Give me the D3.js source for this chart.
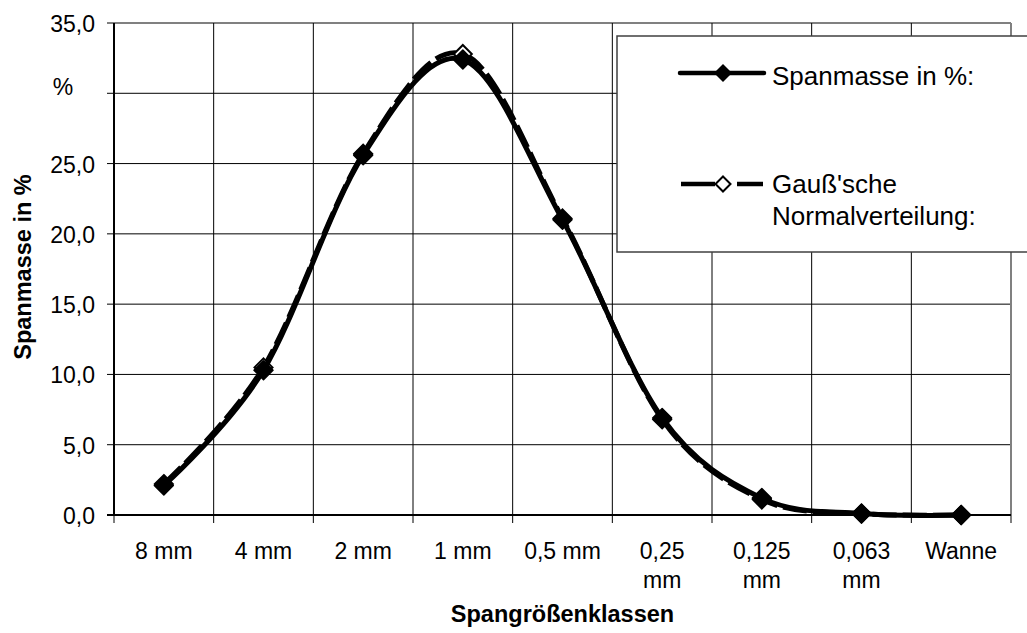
<!DOCTYPE html>
<meta charset="utf-8">
<script src="https://d3js.org/d3.v7.min.js"></script>
<style>
  body { margin: 0; background: #fff; }
  text { font-family: "Liberation Sans", Arial, sans-serif; fill: #000; }
</style>
<div id="chart"></div>
<script>
// data
const categories = ["8 mm", "4 mm", "2 mm", "1 mm", "0,5 mm", "0,25 mm", "0,125 mm", "0,063 mm", "Wanne"];
const spanmasse = [2.1, 10.3, 25.6, 32.4, 21.0, 6.9, 1.2, 0.1, 0.0];
const gauss = [2.2, 10.5, 25.7, 32.8, 21.1, 6.8, 1.1, 0.1, 0.0];
const yTicks = [0, 5, 10, 15, 20, 25, 30, 35];
const seriesNames = ["Spanmasse in %:", "Gauß'sche Normalverteilung:"];

const W = 1027, H = 633;
const margin = {top: 23, right: 16, bottom: 118, left: 114};
const width = W - margin.left - margin.right,
      height = H - margin.top - margin.bottom;

const svg = d3.select("#chart").append("svg")
    .attr("width", W).attr("height", H);
const g = svg.append("g")
    .attr("transform", `translate(${margin.left},${margin.top})`);

const x = d3.scaleBand().domain(categories).range([0, width]);
const y = d3.scaleLinear().domain([0, 35]).range([height, 0]);
const xc = d => x(d) + x.bandwidth() / 2;

// horizontal grid + y ticks
g.selectAll(".hgrid").data(yTicks).join("line")
    .attr("x1", d => d === 35 ? 0 : -7).attr("x2", width)
    .attr("y1", d => y(d)).attr("y2", d => y(d))
    .attr("stroke", d => d === 35 ? "#808080" : "#000")
    .attr("stroke-width", d => d === 35 ? 2 : 1);
g.append("line").attr("x1", -7).attr("x2", 0).attr("y1", 0).attr("y2", 0)
    .attr("stroke", "#000");
// vertical grid + x ticks
const bounds = categories.map(c => x(c)).concat([width]);
g.selectAll(".vgrid").data(bounds).join("line")
    .attr("x1", d => d).attr("x2", d => d)
    .attr("y1", 0)
    .attr("y2", height + 8)
    .attr("stroke", (d, i) => i === bounds.length - 1 ? "#808080" : "#000")
    .attr("stroke-width", (d, i) => i === bounds.length - 1 ? 2 : 1);
// axes lines
g.append("line").attr("x1", 0).attr("x2", 0).attr("y1", 0).attr("y2", height)
    .attr("stroke", "#000").attr("stroke-width", 2);
g.append("line").attr("x1", -7).attr("x2", width).attr("y1", height).attr("y2", height)
    .attr("stroke", "#000").attr("stroke-width", 2);

// y tick labels
g.selectAll(".ylab").data(yTicks).join("text")
    .attr("x", d => d === 30 ? -51 : -19)
    .attr("y", d => d === 30 ? y(d) + 2 : y(d) + 9)
    .attr("text-anchor", d => d === 30 ? "middle" : "end")
    .attr("font-size", 23)
    .text(d => d === 30 ? "%" : d3.format(".1f")(d).replace(".", ","));

// x tick labels (wrap "0,25 mm" etc.)
const xl = g.selectAll(".xlab").data(categories).join("text")
    .attr("text-anchor", "middle")
    .attr("font-size", 23)
    .attr("x", d => xc(d))
    .attr("y", height + 44);
xl.each(function(d) {
  const parts = d.length > 6 ? d.split(" ") : [d];
  d3.select(this).selectAll("tspan").data(parts).join("tspan")
      .attr("x", xc(d)).attr("dy", (p, i) => i === 0 ? 0 : 29).text(p => p);
});

// axis titles
svg.append("text").attr("x", margin.left + width / 2).attr("y", 622)
    .attr("text-anchor", "middle").attr("font-size", 23.5).attr("font-weight", "bold")
    .text("Spangrößenklassen");
svg.append("text").attr("transform", `translate(31,267) rotate(-90)`)
    .attr("text-anchor", "middle").attr("font-size", 23.5).attr("font-weight", "bold")
    .text("Spanmasse in %");

// lines
const line = d3.line().x((d, i) => xc(categories[i])).y(d => y(d))
    .curve(d3.curveCatmullRom.alpha(0));
const diamond = s => `M0,${-s}L${s},0L0,${s}L${-s},0Z`;

g.append("path").datum(gauss).attr("d", line)
    .attr("fill", "none").attr("stroke", "#000").attr("stroke-width", 5)
    .attr("stroke-dasharray", "24,6");
g.selectAll(".gm").data(gauss).join("path")
    .attr("transform", (d, i) => `translate(${xc(categories[i])},${y(d)})`)
    .attr("d", diamond(9)).attr("fill", "#fff").attr("stroke", "#000").attr("stroke-width", 2);

g.append("path").datum(spanmasse).attr("d", line)
    .attr("fill", "none").attr("stroke", "#000").attr("stroke-width", 5);
g.selectAll(".sm").data(spanmasse).join("path")
    .attr("transform", (d, i) => `translate(${xc(categories[i])},${y(d)})`)
    .attr("d", diamond(9.5)).attr("fill", "#000").attr("stroke", "#000")
    .attr("stroke-width", 1.5).attr("stroke-linejoin", "round");

// legend
const lg = svg.append("g");
lg.append("rect").attr("x", 617).attr("y", 36).attr("width", 420).attr("height", 216)
    .attr("fill", "#fff").attr("stroke", "#404040").attr("stroke-width", 1.5);
// entry 1
lg.append("line").attr("x1", 680).attr("x2", 764).attr("y1", 73).attr("y2", 73)
    .attr("stroke", "#000").attr("stroke-width", 4.5).attr("stroke-linecap", "round");
lg.append("path").attr("transform", "translate(723,73)").attr("d", diamond(9)).attr("fill", "#000");
lg.append("text").attr("x", 772).attr("y", 85).attr("font-size", 26).text(seriesNames[0]);
// entry 2
lg.append("line").attr("x1", 681).attr("x2", 715).attr("y1", 184).attr("y2", 184)
    .attr("stroke", "#000").attr("stroke-width", 4.5);
lg.append("line").attr("x1", 737).attr("x2", 763).attr("y1", 184).attr("y2", 184)
    .attr("stroke", "#000").attr("stroke-width", 4.5);
lg.append("path").attr("transform", "translate(723,184)").attr("d", diamond(7.5))
    .attr("fill", "#fff").attr("stroke", "#000").attr("stroke-width", 2);
const t2 = lg.append("text").attr("x", 772).attr("y", 193).attr("font-size", 26);
t2.append("tspan").attr("x", 772).text("Gauß'sche");
t2.append("tspan").attr("x", 772).attr("dy", 32).text("Normalverteilung:");
</script>
